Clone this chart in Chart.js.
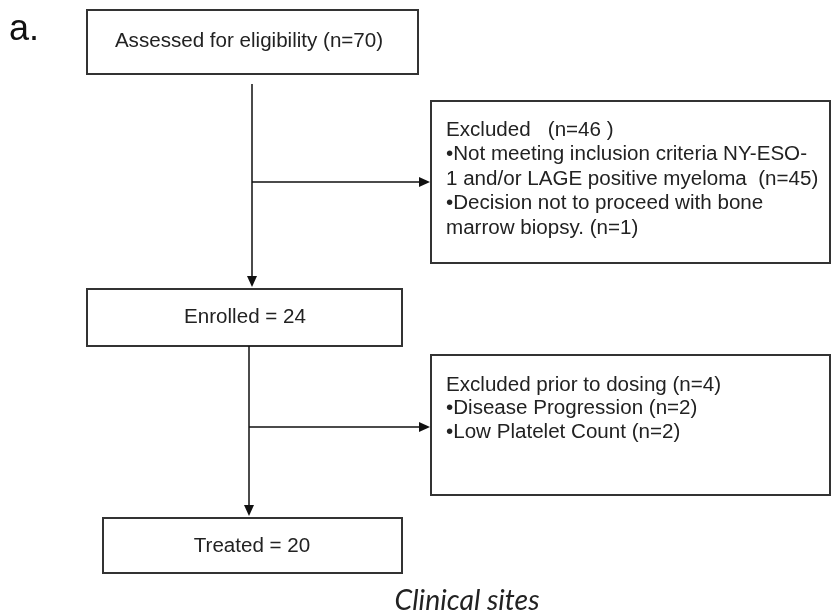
<!DOCTYPE html>
<html>
<head>
<meta charset="utf-8">
<script src="https://cdn.jsdelivr.net/npm/chart.js@4.4.1/dist/chart.umd.min.js"></script>
<style>
  html, body { margin: 0; padding: 0; background: #fff; }
  canvas { display: block; }
</style>
</head>
<body>
<canvas id="flow" width="831" height="613"></canvas>
<script>
// flow stages and counts
const stageNames = ['Assessed for eligibility', 'Enrolled', 'Treated'];
const stageCounts = [70, 24, 20];

const exclusionTitles = ['Excluded   ', 'Excluded prior to dosing '];
const exclusionCounts = [46, 4];

// reasons, already wrapped the way the figure wraps them
const screeningReasons = [
    ['•Not meeting inclusion criteria NY-ESO-', '1 and/or LAGE positive myeloma  '],
    ['•Decision not to proceed with bone', 'marrow biopsy. ']
];
const screeningReasonCounts = [45, 1];
const dosingReasons = [['•Disease Progression '], ['•Low Platelet Count ']];
const dosingReasonCounts = [2, 2];

const panelLabel = 'a.';
const footerLabel = 'Clinical sites';

const SANS = '"Liberation Sans", Arimo, Arial, sans-serif';
const ITALIC = 'Lato, "Open Sans", sans-serif';

// layout in chart units (x 0..831, y 0..613 top-down)
const layout = {
    stages: [
        { x0: 87, x1: 418, y0: 10, y1: 74, tx: 249, ty: 41 },
        { x0: 87, x1: 402, y0: 289, y1: 346, tx: 245, ty: 317 },
        { x0: 103, x1: 402, y0: 518, y1: 573, tx: 252, ty: 546 }
    ],
    exclusions: [
        { x0: 431, x1: 830, y0: 101, y1: 263, tx: 446, ty: 130, lh: 24.6 },
        { x0: 431, x1: 830, y0: 355, y1: 495, tx: 446, ty: 385, lh: 23.5 }
    ],
    trunks: [
        { x: 252, y0: 84, y1: 288, by: 182 },
        { x: 249, y0: 346, y1: 517, by: 427 }
    ],
    bodyRefWidth: 361,   // width of the longest excluded line in the figure
    footer: { x: 467, y: 601, w: 145 }
};

function excludedLines(i) {
    const reasons = i === 0 ? screeningReasons : dosingReasons;
    const counts = i === 0 ? screeningReasonCounts : dosingReasonCounts;
    const lines = [exclusionTitles[i] + '(n=' + exclusionCounts[i] + (i === 0 ? ' )' : ')')];
    reasons.forEach((parts, k) => {
        parts.forEach((p, j) => {
            lines.push(j === parts.length - 1 ? p + '(n=' + counts[k] + ')' : p);
        });
    });
    return lines;
}

function stageText(i) {
    return i === 0 ? stageNames[i] + ' (n=' + stageCounts[i] + ')' : stageNames[i] + ' = ' + stageCounts[i];
}

function fitSize(ctx, text, width, family, style) {
    ctx.font = (style || '') + ' 20px ' + family;
    return 20 * width / ctx.measureText(text).width;
}

const flowPlugin = {
    id: 'flow',
    afterDraw(chart) {
        const ctx = chart.ctx;
        const sx = chart.scales.x, sy = chart.scales.y;
        const X = v => sx.getPixelForValue(v);
        const Y = v => sy.getPixelForValue(v);

        ctx.save();
        ctx.fillStyle = '#fff';
        ctx.fillRect(0, 0, chart.width, chart.height);

        // boxes
        ctx.strokeStyle = '#333';
        ctx.lineWidth = 2;
        layout.stages.concat(layout.exclusions).forEach(b => {
            ctx.strokeRect(X(b.x0), Y(b.y0), X(b.x1) - X(b.x0), Y(b.y1) - Y(b.y0));
        });

        // connectors
        ctx.strokeStyle = '#111';
        ctx.fillStyle = '#111';
        ctx.lineWidth = 1.5;
        const arrowHead = (x, y, dir) => {
            ctx.beginPath();
            if (dir === 'down') {
                ctx.moveTo(x, y); ctx.lineTo(x - 5, y - 11); ctx.lineTo(x + 5, y - 11);
            } else {
                ctx.moveTo(x, y); ctx.lineTo(x - 11, y - 5); ctx.lineTo(x - 11, y + 5);
            }
            ctx.closePath();
            ctx.fill();
        };
        layout.trunks.forEach((t, i) => {
            const ex = layout.exclusions[i];
            ctx.beginPath();
            ctx.moveTo(X(t.x), Y(t.y0));
            ctx.lineTo(X(t.x), Y(t.y1) - 8);
            ctx.moveTo(X(t.x), Y(t.by));
            ctx.lineTo(X(ex.x0) - 8, Y(t.by));
            ctx.stroke();
            arrowHead(X(t.x), Y(t.y1) - 1, 'down');
            arrowHead(X(ex.x0) - 1, Y(t.by), 'right');
        });

        // body font sized to the figure's longest line
        const bodySize = fitSize(ctx, excludedLines(0)[1], layout.bodyRefWidth, SANS);
        ctx.font = bodySize.toFixed(2) + 'px ' + SANS;
        ctx.fillStyle = '#222';
        ctx.textBaseline = 'middle';
        ctx.textAlign = 'center';
        layout.stages.forEach((b, i) => {
            ctx.fillText(stageText(i), X(b.tx), Y(b.ty));
        });

        ctx.textAlign = 'left';
        layout.exclusions.forEach((b, i) => {
            excludedLines(i).forEach((line, k) => {
                ctx.fillText(line, X(b.tx), Y(b.ty + k * b.lh));
            });
        });

        // panel label and footer
        ctx.font = '36px ' + SANS;
        ctx.fillStyle = '#111';
        ctx.textBaseline = 'alphabetic';
        ctx.fillText(panelLabel, X(9), Y(40));

        const f = layout.footer;
        const footSize = fitSize(ctx, footerLabel, f.w, ITALIC, 'italic');
        ctx.font = 'italic ' + footSize.toFixed(2) + 'px ' + ITALIC;
        ctx.textAlign = 'center';
        ctx.textBaseline = 'middle';
        ctx.fillStyle = '#222';
        ctx.fillText(footerLabel, X(f.x), Y(f.y));
        ctx.restore();
    }
};

function build() {
    new Chart(document.getElementById('flow'), {
        type: 'scatter',
        data: { datasets: [{ data: [] }] },
        options: {
            responsive: false,
            animation: false,
            devicePixelRatio: 1,
            layout: { padding: 0 },
            plugins: { legend: { display: false }, tooltip: { enabled: false } },
            scales: {
                x: { type: 'linear', min: 0, max: 831, display: false },
                y: { type: 'linear', min: 0, max: 613, reverse: true, display: false }
            }
        },
        plugins: [flowPlugin]
    });
}

Promise.all([
    document.fonts.load('16px "Liberation Sans"'),
    document.fonts.load('italic 20px Lato')
]).then(build, build);
</script>
</body>
</html>
